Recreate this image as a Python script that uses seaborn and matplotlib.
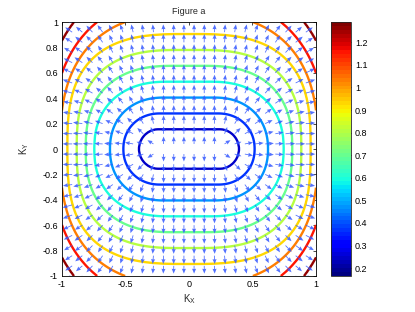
import numpy as np
import matplotlib
matplotlib.use("Agg")
import matplotlib.pyplot as plt
import seaborn as sns

# contour levels and the colour range shown by the colorbar
levels = [0.25, 0.363, 0.476, 0.589, 0.702, 0.815, 0.928, 1.041, 1.154, 1.267]
z_min, z_max = 0.165, 1.29
level_vals = [z_min] + levels + [z_max]

# shape of every level curve
# (centre first, then the 10 drawn levels, then the corner value)
# flat part on K_X, half width on K_X, half height on K_Y, roundness of the ends
flat_kx = [0.20, 0.24, 0.23, 0.20, 0.17, 0.12, 0.07, 0.02, 0.0, 0.0, 0.0, 0.0]
half_kx = [0.21, 0.394, 0.517, 0.622, 0.746, 0.813, 0.884, 0.958, 1.015, 1.08, 1.16, 1.23]
half_ky = [0.01, 0.156, 0.280, 0.405, 0.530, 0.655, 0.780, 0.905, 1.07, 1.20, 1.36, 1.46]
roundness = [2.0, 2.0, 2.1, 2.2, 2.3, 2.5, 2.7, 2.9, 2.6, 2.5, 2.5, 2.5]

x_ticks = [-1, -0.5, 0, 0.5, 1]
y_ticks = [-1, -0.8, -0.6, -0.4, -0.2, 0, 0.2, 0.4, 0.6, 0.8, 1]
cbar_ticks = [0.2, 0.3, 0.4, 0.5, 0.6, 0.7, 0.8, 0.9, 1.0, 1.1, 1.2]


def field(kx, ky):
    # find, for every point, the level curve passing through it (bisection)
    ax_, ay_ = np.abs(kx), np.abs(ky)
    idx = np.arange(len(level_vals), dtype=float)
    lo = np.zeros_like(kx, dtype=float)
    hi = np.full_like(kx, idx[-1], dtype=float)
    for _ in range(40):
        mid = 0.5 * (lo + hi)
        s = np.interp(mid, idx, flat_kx)
        a = np.interp(mid, idx, half_kx)
        b = np.interp(mid, idx, half_ky)
        p = np.interp(mid, idx, roundness)
        dx = np.maximum(ax_ - s, 0)
        inside = (dx / (a - s)) ** p + (ay_ / b) ** p <= 1
        hi = np.where(inside, mid, hi)
        lo = np.where(inside, lo, mid)
    return np.interp(0.5 * (lo + hi), idx, level_vals)


sns.set_theme(style="white")
plt.rcParams["font.family"] = ["Liberation Sans", "DejaVu Sans"]
plt.rcParams["mathtext.fontset"] = "custom"
plt.rcParams["mathtext.rm"] = "Liberation Sans"

k = np.linspace(-1, 1, 301)
KX, KY = np.meshgrid(k, k)
Z = field(KX, KY)

# arrows: gradient direction on the quiver grid
q = np.linspace(-1, 1, 26)
QX, QY = np.meshgrid(q, q)
h = 0.004
U = (field(QX + h, QY) - field(QX - h, QY)) / (2 * h)
V = (field(QX, QY + h) - field(QX, QY - h)) / (2 * h)
g = np.hypot(U, V)
g[g == 0] = 1e-9
mag = (g / g.max()) ** 0.25
U = U / g * mag * 0.08
V = V / g * mag * 0.08

cmap = plt.get_cmap("jet", 64)
norm = matplotlib.colors.Normalize(z_min, z_max)

fig = plt.figure(figsize=(4.15, 3.12), dpi=100)
ax = fig.add_axes([0.1494, 0.1154, 0.612, 0.814])
ax.contour(KX, KY, Z, levels=levels, cmap=cmap, norm=norm, linewidths=1.7, zorder=2)
ax.quiver(QX, QY, U, V, angles="xy", scale_units="xy", scale=1, color="#3458ff",
          alpha=0.85, width=0.0032, headwidth=5, headlength=6, headaxislength=5.5,
          zorder=3)

ax.set_xlim(-1, 1)
ax.set_ylim(-1, 1)
ax.set_xticks(x_ticks)
ax.set_xticklabels([f"{v:g}" for v in x_ticks])
ax.set_yticks(y_ticks)
ax.set_yticklabels([f"{v:g}" for v in y_ticks])
ax.tick_params(direction="in", length=2.5, width=0.5, labelsize=6.5, pad=3,
               top=True, right=True, colors="black")
for s in ax.spines.values():
    s.set_linewidth(0.6)
    s.set_color("black")
ax.set_xlabel(r"K$_\mathrm{X}$", fontsize=7, labelpad=2)
ax.set_ylabel(r"K$_\mathrm{Y}$", fontsize=7, labelpad=8)
ax.set_title("Figure a", fontsize=6.5, pad=6)

cax = fig.add_axes([0.7976, 0.1154, 0.048, 0.814])
sm = matplotlib.cm.ScalarMappable(norm=norm, cmap=cmap)
cb = fig.colorbar(sm, cax=cax)
cb.set_ticks(cbar_ticks)
cb.set_ticklabels([f"{v:g}" for v in cbar_ticks])
cb.ax.tick_params(direction="in", length=2, width=0.5, labelsize=6.5, pad=3,
                  left=True, right=True, colors="black")
cb.outline.set_linewidth(0.6)

fig.savefig("out.png", dpi=100)
